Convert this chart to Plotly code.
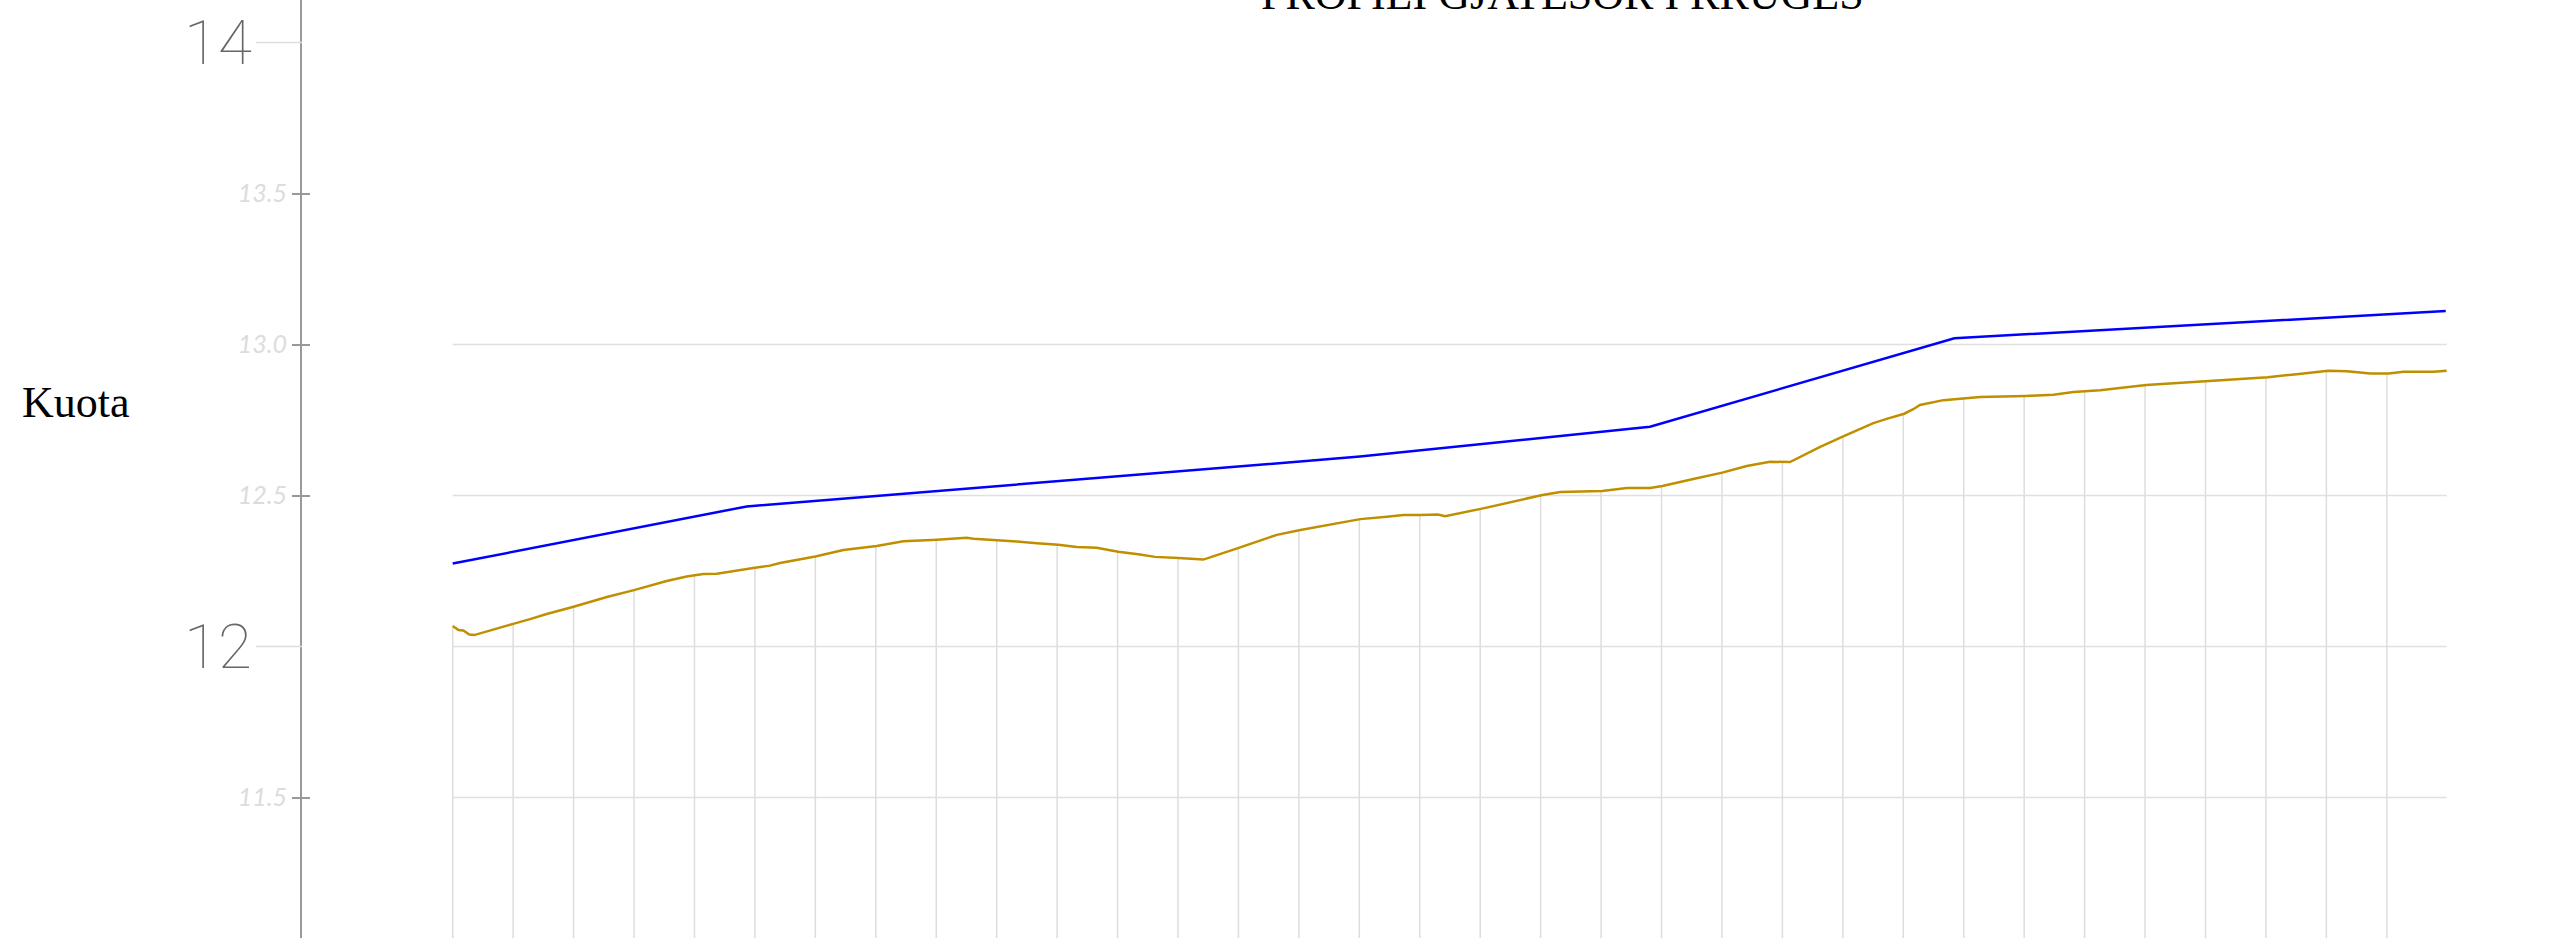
import numpy as np
import plotly.graph_objects as go

# ---- data ----
ground_x = [0, 1.9, 3.5, 5.5, 7.1, 13.4, 20, 25.6, 31.1, 40, 51, 60, 70.8, 77.4, 82.9, 87.4,
            95.1, 100, 105, 108.3, 120, 129.3, 140.3, 149.1, 160.2, 170.1, 172.3, 180.1,
            186.6, 193.3, 200.4, 206.5, 213.1, 217.5, 220.3, 227.4, 232.4, 240.2, 248.4,
            260.1, 272.7, 280.5, 291.4, 300.3, 309.1, 314.6, 320.3, 326.0, 328.4, 340.2,
            360.6, 366.5, 380.4, 388.5, 396.2, 400.3, 410.5, 420.1, 428.2, 435.9, 442.5,
            452.5, 460.5, 470.1, 474.5, 480.3, 483.3, 485.5, 493.3, 500.3, 505.4, 520.6,
            529.7, 536.3, 545.1, 560.4, 570.5, 580.3, 590.3, 600.6, 610.2, 620.6, 626.8,
            634.5, 640.6, 645.5, 655.5, 659.8]
ground_z = [12.068, 12.055, 12.053, 12.040, 12.038, 12.055, 12.075, 12.091, 12.108, 12.132,
            12.164, 12.187, 12.217, 12.232, 12.240, 12.241, 12.254, 12.261, 12.268, 12.277,
            12.298, 12.320, 12.333, 12.349, 12.354, 12.360, 12.357, 12.353, 12.348, 12.342,
            12.337, 12.330, 12.327, 12.319, 12.314, 12.305, 12.297, 12.293, 12.288, 12.327,
            12.370, 12.386, 12.405, 12.422, 12.430, 12.436, 12.436, 12.437, 12.432, 12.456,
            12.502, 12.512, 12.515, 12.525, 12.525, 12.532, 12.555, 12.576, 12.598, 12.612,
            12.611, 12.661, 12.698, 12.740, 12.754, 12.771, 12.786, 12.800, 12.816, 12.822,
            12.826, 12.830, 12.834, 12.843, 12.849, 12.866, 12.873, 12.880, 12.886, 12.892,
            12.902, 12.913, 12.912, 12.904, 12.904, 12.910, 12.910, 12.913]

design_x = [0, 97.3, 300.2, 396.2, 496.9, 659.5]
design_z = [12.275, 12.464, 12.629, 12.728, 13.021, 13.111]

stations = [0, 20, 40, 60, 80, 100, 120, 140, 160, 180, 200, 220, 240, 260, 280, 300, 320,
            340, 360, 380, 400, 420, 440, 460, 480, 500, 520, 540, 560, 580, 600, 620, 640]

grid_levels = [11.5, 12.0, 12.5, 13.0]
tick_vals = [11.5, 12.5, 13.0, 13.5]
tick_text = ["11.5", "12.5", "13.0", "13.5"]
big_labels = [14, 12]

title_text = "PROFILI GJATESOR I RRUGES"
ylabel_text = "Kuota"

# ---- layout geometry ----
W, H = 2573, 938
ML, MR, MT, MB = 302, 65, 0, 0
x_range = [-49.87, 680.1]
y_range = [11.035, 14.141]
plot_w = W - ML - MR
px = lambda p: (p - ML) / plot_w  # pixel -> paper x

fig = go.Figure()

# stems from bottom to ground
stem_top = np.interp(stations, ground_x, ground_z)
sx, sy = [], []
for s, t in zip(stations, stem_top):
    sx += [s, s, None]
    sy += [y_range[0] - 1, float(t), None]
fig.add_trace(go.Scatter(x=sx, y=sy, mode="lines", line=dict(color="#dddddd", width=1.5),
                         hoverinfo="skip", showlegend=False))

# horizontal grid over data extent
gx, gy = [], []
for g in grid_levels:
    gx += [min(ground_x), max(ground_x), None]
    gy += [g, g, None]
fig.add_trace(go.Scatter(x=gx, y=gy, mode="lines", line=dict(color="#e0e0e0", width=1.5),
                         hoverinfo="skip", showlegend=False))

fig.add_trace(go.Scatter(x=ground_x, y=ground_z, mode="lines",
                         line=dict(color="#c08f00", width=2.5), showlegend=False))
fig.add_trace(go.Scatter(x=design_x, y=design_z, mode="lines",
                         line=dict(color="#0000ff", width=2.5), showlegend=False))

# invisible trace on overlay axis for inside ticks
fig.add_trace(go.Scatter(x=[None], y=[None], yaxis="y2", showlegend=False, hoverinfo="skip"))

shapes = []
for b in big_labels:
    shapes.append(dict(type="line", xref="paper", yref="y", x0=px(256), x1=px(302),
                       y0=b, y1=b, line=dict(color="#dddddd", width=1.5)))

annotations = [
    dict(text=title_text, xref="paper", yref="paper", x=px(1562), y=1, xanchor="center",
         yanchor="bottom", yshift=-21, showarrow=False,
         font=dict(family="Liberation Serif, Times New Roman, serif", size=44, color="black")),
    dict(text=ylabel_text, xref="paper", yref="y", x=px(20), y=12.807, xanchor="left",
         yanchor="middle", showarrow=False,
         font=dict(family="Liberation Serif, Times New Roman, serif", size=44, color="black")),
]
for b in big_labels:
    annotations.append(dict(text=str(b), xref="paper", yref="y", x=px(254), y=b,
                            xanchor="right", yanchor="middle", showarrow=False,
                            font=dict(family="Roboto", size=62, color="#666666", weight=100)))

fig.update_layout(
    width=W, height=H, margin=dict(l=ML, r=MR, t=MT, b=MB),
    plot_bgcolor="white", paper_bgcolor="white",
    xaxis=dict(range=x_range, visible=False),
    yaxis=dict(range=y_range, showgrid=False, zeroline=False, showline=True,
               linecolor="#999999", linewidth=2, ticks="outside", ticklen=8,
               tickwidth=1.5, tickcolor="#999999", tickvals=tick_vals, ticktext=tick_text,
               tickfont=dict(family="Lato", size=25, color="#dcdcdc", style="italic")),
    yaxis2=dict(range=y_range, overlaying="y", side="left", anchor="x", showgrid=False,
                zeroline=False, showline=False, ticks="inside", ticklen=8, tickwidth=1.5,
                tickcolor="#999999", tickvals=tick_vals, showticklabels=False),
    shapes=shapes, annotations=annotations,
)

fig.write_html("out.html", config={"displayModeBar": False},
               post_script="document.body.style.margin='0';document.body.style.overflow='hidden';")
